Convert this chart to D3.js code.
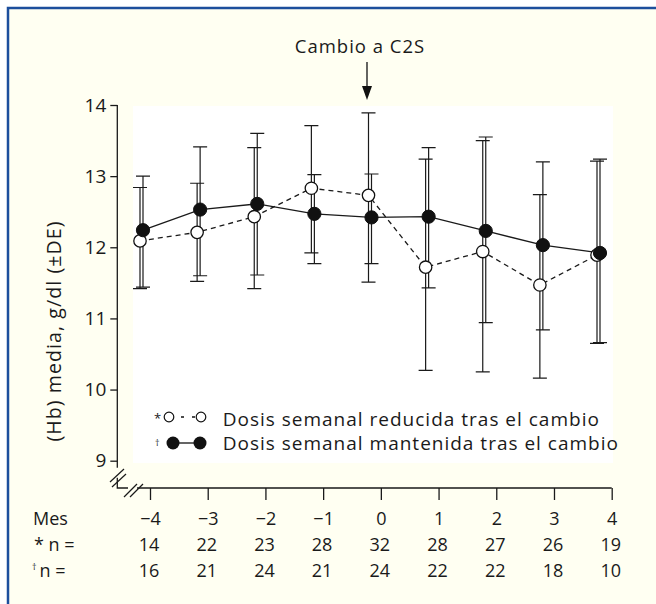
<!DOCTYPE html>
<meta charset="utf-8">
<head>
<style>
    body { margin: 0; background: #fff; }
    text { font-family: "Open Sans", sans-serif; fill: #1a1a1a; }
    .axis text { font-size: 18px; }
    .axis line { stroke: #1a1a1a; stroke-width: 1.3px; }
    .bar { stroke: #1a1a1a; stroke-width: 1.2px; fill: none; }
    .line { fill: none; stroke: #1a1a1a; stroke-width: 1.3px; }
</style>
</head>
<body>
<script src="https://d3js.org/d3.v7.min.js"></script>
<script>
// months after / before the switch to C2S
var months = [-4, -3, -2, -1, 0, 1, 2, 3, 4];
var yTicks = [9, 10, 11, 12, 13, 14];

// * dose reduced after the switch (open circles)
var reducedMean = [12.09, 12.21, 12.43, 12.83, 12.73, 11.72, 11.94, 11.47, 11.89];
var reducedLow  = [11.42, 11.52, 11.42, 11.92, 11.51, 10.27, 10.25, 10.16, 10.65];
var reducedHigh = [12.84, 12.90, 13.40, 13.71, 13.89, 13.24, 13.50, 12.74, 13.21];

// † dose kept after the switch (filled circles)
var keptMean = [12.24, 12.53, 12.61, 12.47, 12.42, 12.43, 12.23, 12.03, 11.92];
var keptLow  = [11.44, 11.60, 11.61, 11.77, 11.77, 11.43, 10.94, 10.84, 10.66];
var keptHigh = [13.00, 13.41, 13.60, 13.02, 13.03, 13.40, 13.55, 13.20, 13.24];

// patients per month
var nReduced = [14, 22, 23, 28, 32, 28, 27, 26, 19];
var nKept    = [16, 21, 24, 21, 24, 22, 22, 18, 10];

var width = 656, height = 604;

var svg = d3.select("body").append("svg")
    .attr("width", width)
    .attr("height", height);

// page frame: cream panel with blue rule on top and left
svg.append("rect")
    .attr("x", 8).attr("y", 8)
    .attr("width", width - 8).attr("height", height - 8)
    .style("fill", "#fffff2");
svg.append("path")
    .attr("d", "M8," + height + "V8H" + width)
    .style("fill", "none")
    .style("stroke", "#1c4e9c")
    .style("stroke-width", 2.5);

var xPts = d3.scaleLinear().domain([-4, 4]).range([141.5, 598.5]);
var xAx = d3.scaleLinear().domain([-4, 4]).range([150, 611.7]);
var y = d3.scaleLinear().domain([9, 14]).range([460.7, 105]);
var axisY = 488, axisX = 117.3;

// white plot panel
svg.append("rect")
    .attr("x", 133).attr("y", 106)
    .attr("width", 480).attr("height", 357)
    .style("fill", "#fff");

// y axis
var gy = svg.append("g")
    .attr("class", "axis")
    .attr("transform", "translate(" + axisX + ",0)")
    .call(d3.axisLeft(y).tickValues(yTicks).tickSize(7).tickPadding(4).tickFormat(d3.format("d")));
gy.select(".domain").remove();
gy.selectAll("text").style("font-size", "19px");

// x axis
var gx = svg.append("g")
    .attr("class", "axis")
    .attr("transform", "translate(0," + axisY + ")")
    .call(d3.axisBottom(xAx).tickValues(months).tickSize(12).tickPadding(12).tickFormat(d3.format("d")));
gx.select(".domain").remove();

// broken axis lines
var axPath = "M" + axisX + "," + y(14) + "V" + (y(9) + 7) +
    "M" + axisX + "," + (y(9) + 17) + "V" + axisY + "H128" +
    "M137," + axisY + "H" + xAx(4);
svg.append("path")
    .attr("d", axPath)
    .style("fill", "none").style("stroke", "#1a1a1a").style("stroke-width", 1.3);
var breaks = [
    [110, 482, 124, 469], [112, 487, 126, 474],
    [124, 497, 137, 484], [130, 497, 143, 484]
];
svg.selectAll(".brk")
    .data(breaks)
    .enter().append("line")
    .attr("x1", function(d) { return d[0]; })
    .attr("y1", function(d) { return d[1]; })
    .attr("x2", function(d) { return d[2]; })
    .attr("y2", function(d) { return d[3]; })
    .style("stroke", "#1a1a1a").style("stroke-width", 1.2);

// y label
svg.append("text")
    .attr("transform", "translate(61,331) rotate(-90)")
    .attr("text-anchor", "middle")
    .style("font-size", "19.5px")
    .style("letter-spacing", "1.1px")
    .text("(Hb) media, g/dl (\u00b1DE)");

var series = [
    { mean: reducedMean, low: reducedLow, high: reducedHigh, dx: -1.5, open: true },
    { mean: keptMean, low: keptLow, high: keptHigh, dx: 1.5, open: false }
];

function rows(s) {
    return months.map(function(m, i) {
        return { m: m, v: s.mean[i], lo: s.low[i], hi: s.high[i], dx: s.dx };
    });
}

// error bars
series.forEach(function(s) {
    var g = svg.append("g");
    var r = rows(s);
    g.selectAll("path")
        .data(r)
        .enter().append("path")
        .attr("class", "bar")
        .attr("d", function(d) {
            var cx = xPts(d.m) + d.dx;
            return "M" + (cx - 7) + "," + y(d.hi) + "H" + (cx + 7) +
                "M" + cx + "," + y(d.hi) + "V" + y(d.lo) +
                "M" + (cx - 7) + "," + y(d.lo) + "H" + (cx + 7);
        });
});

var valueline = d3.line()
    .x(function(d) { return xPts(d.m) + d.dx; })
    .y(function(d) { return y(d.v); });

svg.append("path")
    .datum(rows(series[0]))
    .attr("class", "line")
    .style("stroke-dasharray", "5,4")
    .attr("d", valueline);
svg.append("path")
    .datum(rows(series[1]))
    .attr("class", "line")
    .attr("d", valueline);

series.forEach(function(s) {
    svg.selectAll(null)
        .data(rows(s))
        .enter().append("circle")
        .attr("cx", function(d) { return xPts(d.m) + d.dx; })
        .attr("cy", function(d) { return y(d.v); })
        .attr("r", s.open ? 6.2 : 6.6)
        .style("fill", s.open ? "#fff" : "#111")
        .style("stroke", "#111")
        .style("stroke-width", s.open ? 1.3 : 1);
});

// legend
svg.append("line")
    .attr("x1", 169).attr("x2", 201).attr("y1", 417).attr("y2", 417)
    .style("stroke", "#111").style("stroke-width", 1.3)
    .style("stroke-dasharray", "3,8").style("stroke-dashoffset", -12);
svg.append("line")
    .attr("x1", 173).attr("x2", 200).attr("y1", 443).attr("y2", 443)
    .style("stroke", "#111").style("stroke-width", 1.3);
svg.selectAll(".lgOpen").data([169, 201]).enter().append("circle")
    .attr("cx", function(d) { return d; }).attr("cy", 417).attr("r", 4.8)
    .style("fill", "#fff").style("stroke", "#111").style("stroke-width", 1.2);
svg.selectAll(".lgFill").data([173, 200]).enter().append("circle")
    .attr("cx", function(d) { return d; }).attr("cy", 443).attr("r", 6.5)
    .style("fill", "#111");
svg.append("text").attr("x", 154).attr("y", 423).style("font-size", "13px").text("*");
svg.append("text").attr("x", 155).attr("y", 446).style("font-size", "9px").text("\u2020");
svg.append("text").attr("x", 222.7).attr("y", 426)
    .style("font-size", "19px").style("letter-spacing", "1px")
    .text("Dosis semanal reducida tras el cambio");
svg.append("text").attr("x", 222.7).attr("y", 450)
    .style("font-size", "19px").style("letter-spacing", "1px")
    .text("Dosis semanal mantenida tras el cambio");

// switch annotation
var ax0 = xPts(0) - 3;
svg.append("text")
    .attr("x", 360).attr("y", 53)
    .attr("text-anchor", "middle")
    .style("font-size", "18.5px").style("letter-spacing", "1px")
    .text("Cambio a C2S");
svg.append("line")
    .attr("x1", ax0).attr("x2", ax0).attr("y1", 62).attr("y2", 90)
    .style("stroke", "#111").style("stroke-width", 1.3);
svg.append("path")
    .attr("d", "M" + (ax0 - 5) + ",86L" + (ax0 + 5) + ",86L" + ax0 + ",100Z")
    .style("fill", "#111");

// n table
svg.append("text").attr("x", 33).attr("y", 525).style("font-size", "18px").text("Mes");
svg.append("text").attr("x", 34).attr("y", 551).style("font-size", "18px").text("* n =");
var dag = svg.append("text").attr("x", 32).attr("y", 577).style("font-size", "18px");
dag.append("tspan").style("font-size", "9px").attr("dy", -7).text("\u2020");
dag.append("tspan").attr("dx", 3).attr("dy", 7).text("n =");

[nReduced, nKept].forEach(function(arr, k) {
    svg.selectAll(null)
        .data(arr)
        .enter().append("text")
        .attr("x", function(d, i) { return xAx(months[i]) - 1; })
        .attr("y", 551 + k * 26)
        .attr("text-anchor", "middle")
        .style("font-size", "18px")
        .text(function(d) { return d; });
});
</script>
</body>
